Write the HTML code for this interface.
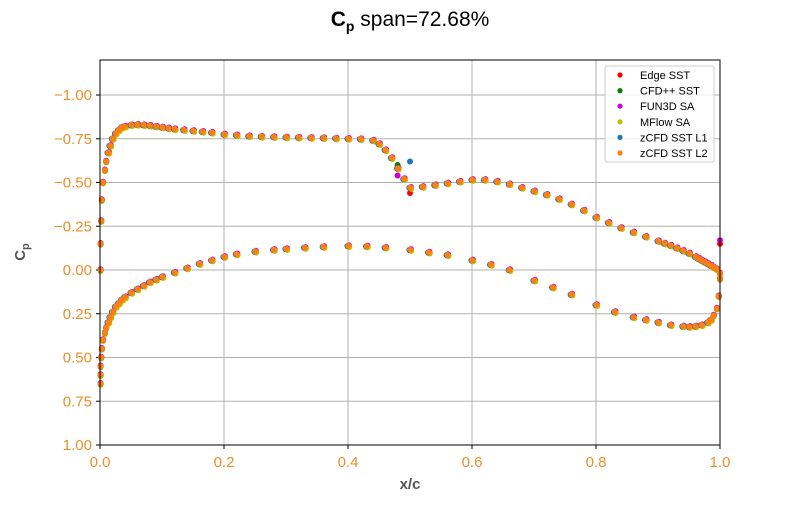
<!DOCTYPE html>
<html><head><meta charset="utf-8"><style>
body{margin:0;background:#fff;}
svg{font-family:"Liberation Sans","DejaVu Sans",sans-serif;}
</style></head><body>
<svg id="chart" width="800" height="500" viewBox="0 0 800 500">
<text x="410" y="26" text-anchor="middle" font-size="21" fill="#000"><tspan font-weight="bold">C</tspan><tspan font-weight="bold" font-size="14" dy="5">p</tspan><tspan dy="-5"> span=72.68%</tspan></text>
<g id="grid"></g>
<g id="ticks"></g>
<g id="marks"></g>
<rect x="100" y="60" width="620" height="385" fill="none" stroke="#000" stroke-width="1"/>
<text x="410" y="489" text-anchor="middle" font-size="15" font-weight="bold" fill="#555">x/c</text>
<text transform="translate(25,252) rotate(-90)" text-anchor="middle" font-size="15" font-weight="bold" fill="#555">C<tspan font-size="11" dy="4">p</tspan></text>
<g id="legend"></g>
</svg>
<script>
const xTicks=[0,0.2,0.4,0.6,0.8,1.0];
const xTickLabels=["0.0","0.2","0.4","0.6","0.8","1.0"];
const yTicks=[-1,-0.75,-0.5,-0.25,0,0.25,0.5,0.75,1];
const yTickLabels=["\u22121.00","\u22120.75","\u22120.50","\u22120.25","0.00","0.25","0.50","0.75","1.00"];
const seriesNames=["Edge SST","CFD++ SST","FUN3D SA","MFlow SA","zCFD SST L1","zCFD SST L2"];
const seriesColors=["#ff0000","#008000","#cc00cc","#bfbf00","#1f77b4","#ff7f0e"];
const seriesXShift=[0.000,0.001,0.0015,0.002,-0.001,0.0005];
const seriesCpShift=[0.003,0.001,-0.004,0.006,0.000,-0.001];
const upperX=[0.001,0.001,0.002,0.003,0.005,0.008,0.01,0.013,0.016,0.02,0.025,0.03,0.035,0.04,0.05,0.06,0.07,0.08,0.09,0.1,0.11,0.12,0.135,0.15,0.165,0.18,0.2,0.22,0.24,0.26,0.28,0.3,0.32,0.34,0.36,0.38,0.4,0.42,0.44,0.45,0.46,0.47,0.48,0.49,0.5,0.52,0.54,0.56,0.58,0.6,0.62,0.64,0.66,0.68,0.7,0.72,0.74,0.76,0.78,0.8,0.82,0.84,0.86,0.88,0.9,0.91,0.92,0.93,0.94,0.95,0.96,0.965,0.97,0.975,0.98,0.985,0.99,0.995,1.0];
const upperCp=[0.0,-0.15,-0.28,-0.4,-0.5,-0.57,-0.62,-0.67,-0.71,-0.75,-0.78,-0.8,-0.815,-0.82,-0.828,-0.83,-0.828,-0.825,-0.82,-0.815,-0.81,-0.805,-0.8,-0.795,-0.79,-0.785,-0.775,-0.77,-0.765,-0.762,-0.76,-0.758,-0.757,-0.755,-0.754,-0.752,-0.75,-0.748,-0.74,-0.72,-0.685,-0.64,-0.58,-0.52,-0.47,-0.475,-0.485,-0.495,-0.505,-0.515,-0.515,-0.505,-0.49,-0.47,-0.45,-0.43,-0.405,-0.375,-0.34,-0.3,-0.27,-0.24,-0.215,-0.19,-0.165,-0.152,-0.14,-0.125,-0.11,-0.095,-0.075,-0.065,-0.055,-0.045,-0.035,-0.025,-0.015,-0.005,0.02];
const lowerX=[0.001,0.001,0.001,0.002,0.003,0.005,0.008,0.01,0.013,0.016,0.02,0.025,0.03,0.035,0.04,0.05,0.06,0.07,0.08,0.09,0.1,0.12,0.14,0.16,0.18,0.2,0.22,0.25,0.28,0.3,0.33,0.36,0.4,0.43,0.46,0.5,0.53,0.56,0.6,0.63,0.66,0.7,0.73,0.76,0.8,0.83,0.86,0.88,0.9,0.92,0.94,0.95,0.96,0.97,0.98,0.985,0.99,0.995,0.998,1.0];
const lowerCp=[0.65,0.6,0.55,0.5,0.45,0.4,0.36,0.33,0.3,0.27,0.24,0.21,0.19,0.17,0.155,0.13,0.11,0.09,0.07,0.055,0.04,0.015,-0.01,-0.035,-0.055,-0.075,-0.09,-0.105,-0.115,-0.12,-0.127,-0.132,-0.137,-0.135,-0.128,-0.115,-0.1,-0.085,-0.055,-0.03,0.0,0.06,0.1,0.14,0.2,0.24,0.27,0.285,0.3,0.315,0.322,0.325,0.322,0.315,0.3,0.285,0.26,0.22,0.15,0.05];
const extraX=[0.5,0.5,0.48,0.48,1.0,1.0];
const extraCp=[-0.62,-0.44,-0.54,-0.6,-0.17,-0.15];
const extraSeries=[4,0,2,1,2,0];
const X0=100,X1=720,Y0=445,Y1=60;
function xs(v){return X0+(v-0)/(1-0)*(X1-X0);}
function ys(v){return 95+(v+1)*175;}
const NS='http://www.w3.org/2000/svg';
function mk(tag,attrs,parent){const e=document.createElementNS(NS,tag);for(const k in attrs)e.setAttribute(k,attrs[k]);parent.appendChild(e);return e;}
const grid=document.getElementById('grid'),ticks=document.getElementById('ticks'),marks=document.getElementById('marks'),legend=document.getElementById('legend');
xTicks.forEach((t,i)=>{
 const g=mk('line',{x1:xs(t),x2:xs(t),y1:Y1,y2:Y0,stroke:'#b0b0b0','stroke-width':1},grid);
 
 
 mk('line',{x1:xs(t),x2:xs(t),y1:Y0,y2:Y0+4,stroke:'#000'},ticks);
 const tx=mk('text',{x:xs(t),y:Y0+22,'text-anchor':'middle','font-size':15,fill:'#e8902a'},ticks);
 tx.textContent=xTickLabels[i];
 
 
});
yTicks.forEach((t,i)=>{
 const g=mk('line',{x1:X0,x2:X1,y1:ys(t),y2:ys(t),stroke:'#b0b0b0','stroke-width':1},grid);
 
 
 mk('line',{x1:X0-4,x2:X0,y1:ys(t),y2:ys(t),stroke:'#000'},ticks);
 const tx=mk('text',{x:X0-8,y:ys(t)+5,'text-anchor':'end','font-size':15,fill:'#e8902a'},ticks);
 tx.textContent=yTickLabels[i];
 
 
});
seriesNames.forEach((n,s)=>{
 const g=mk('g',{fill:seriesColors[s]},marks);
 
 
 const draw=(X,C)=>X.forEach((x,i)=>{
  const xx=Math.min(1,Math.max(0,x+(x>0.01&&x<0.99?seriesXShift[s]:0)));
  const c=mk('circle',{cx:xs(xx),cy:ys(C[i]+seriesCpShift[s]),r:3},g);
  
  
 });
 draw(upperX,upperCp);draw(lowerX,lowerCp);
 extraX.forEach((x,i)=>{if(extraSeries[i]===s){
  const c=mk('circle',{cx:xs(x),cy:ys(extraCp[i]),r:3},g);
  
  }});
});
const lb=mk('rect',{x:605,y:66,width:109,height:96,fill:'#fff','fill-opacity':0.8,stroke:'#ccc',rx:2},legend);


seriesNames.forEach((n,s)=>{
 const y=75+s*15.6;
 const c=mk('circle',{cx:620,cy:y,r:2.6,fill:seriesColors[s]},legend);
 
 
 const t=mk('text',{x:640,y:y+4,'font-size':11,fill:'#000'},legend);
 t.textContent=n;
 
 
});
</script>
</body></html>
